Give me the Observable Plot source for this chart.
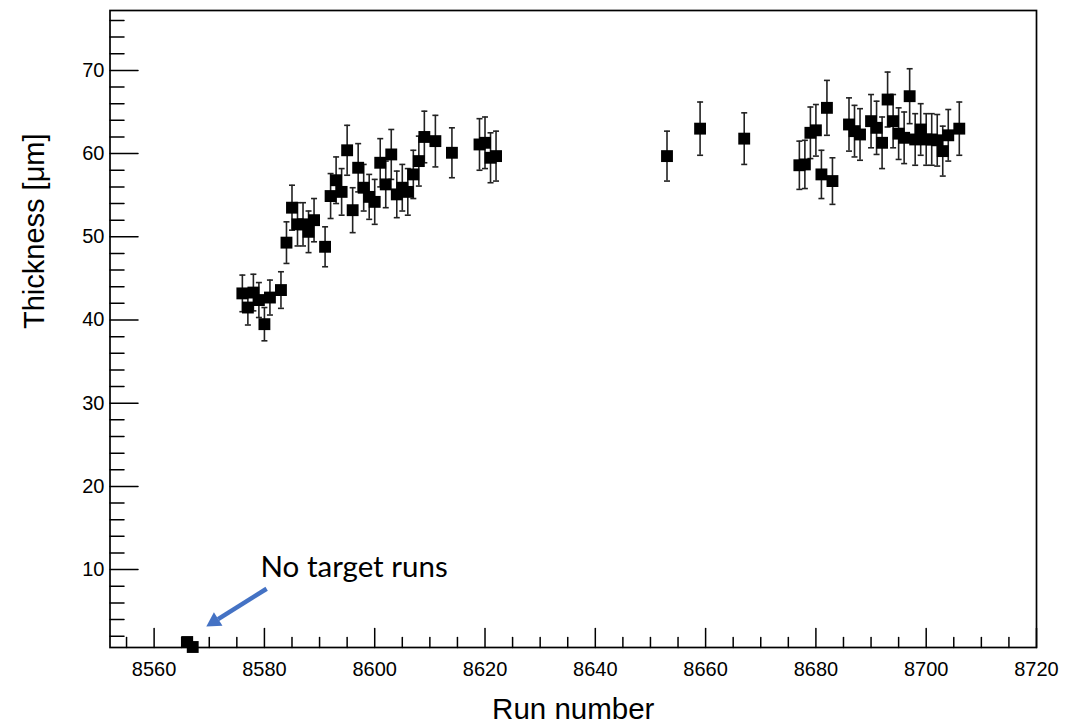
<!DOCTYPE html>
<html>
<head>
<meta charset="utf-8">
<script src="https://cdn.jsdelivr.net/npm/d3@7"></script>
<script src="https://cdn.jsdelivr.net/npm/@observablehq/plot@0.6"></script>
<style>
  html, body { margin: 0; padding: 0; background: #fff; }
  #chart { width: 1081px; height: 724px; }
</style>
</head>
<body>
<div id="chart"></div>
<script>
// ---- data ----
const runs = [8566, 8567,
  8576, 8577, 8578, 8579, 8580, 8581, 8583, 8584, 8585, 8586, 8587, 8588, 8589,
  8591, 8592, 8593, 8594, 8595, 8596, 8597, 8598, 8599, 8600, 8601, 8602, 8603,
  8604, 8605, 8606, 8607, 8608, 8609, 8611, 8614, 8619, 8620, 8621, 8622,
  8653, 8659, 8667,
  8677, 8678, 8679, 8680, 8681, 8682, 8683, 8686, 8687, 8688, 8690, 8691, 8692,
  8693, 8694, 8695, 8696, 8697, 8698, 8699, 8700, 8701, 8702, 8703, 8704, 8706];
const thickness = [1.3, 0.7,
  43.2, 41.5, 43.3, 42.4, 39.5, 42.7, 43.6, 49.3, 53.5, 51.5, 51.5, 50.6, 52.0,
  48.8, 54.9, 56.8, 55.4, 60.4, 53.2, 58.3, 55.9, 54.8, 54.2, 58.9, 56.3, 59.9,
  55.1, 55.9, 55.4, 57.5, 59.1, 62.0, 61.5, 60.1, 61.1, 61.3, 59.5, 59.7,
  59.7, 63.0, 61.8,
  58.6, 58.7, 62.5, 62.8, 57.5, 65.5, 56.7, 63.5, 62.7, 62.3, 63.9, 63.1, 61.3,
  66.5, 63.9, 62.4, 61.9, 66.9, 61.7, 62.9, 61.7, 61.7, 61.6, 60.3, 62.2, 63.0];
const errors = [0.0, 0.0,
  2.2, 2.1, 2.2, 2.1, 2.0, 2.1, 2.2, 2.5, 2.7, 2.6, 2.6, 2.5, 2.6,
  2.4, 2.7, 2.8, 2.8, 3.0, 2.7, 2.9, 2.8, 2.7, 2.7, 2.9, 2.8, 3.0,
  2.8, 2.8, 2.8, 2.9, 3.0, 3.1, 3.1, 3.0, 3.1, 3.1, 3.0, 3.0,
  3.0, 3.2, 3.1,
  2.9, 2.9, 3.1, 3.1, 2.9, 3.3, 2.8, 3.2, 3.1, 3.1, 3.2, 3.2, 3.1,
  3.3, 3.2, 3.1, 3.1, 3.3, 3.1, 3.1, 3.1, 3.1, 3.1, 3.0, 3.1, 3.2];

const xTickLabels = [8560, 8580, 8600, 8620, 8640, 8660, 8680, 8700, 8720];
const yTickLabels = [10, 20, 30, 40, 50, 60, 70];
const xMinorTicks = d3.range(8555, 8720, 5).filter(v => !xTickLabels.includes(v));
const yMinorTicks = d3.range(2, 78, 2).filter(v => !yTickLabels.includes(v));

const xTitle = ["Run number"];
const yTitle = ["Thickness [μm]"];
const noteText = ["No target runs"];
const noteX = [8579.3];
const noteY = [9.1];
// arrow shaft (start -> base of head) and head centre / direction
const arrowFromX = [8580.4], arrowFromY = [7.7];
const arrowToX = [8571.6], arrowToY = [4.05];
const headX = [8570.9], headY = [3.77], headAngle = [-122];

// ---- tables built from arrays ----
const points = runs.map((r, i) => ({run: r, v: thickness[i], e: errors[i]}));
const note = noteText.map((t, i) => ({t, x: noteX[i], y: noteY[i]}));
const shafts = arrowFromX.map((_, i) => ({x1: arrowFromX[i], y1: arrowFromY[i], x2: arrowToX[i], y2: arrowToY[i]}));
const heads = headX.map((_, i) => ({x: headX[i], y: headY[i], a: headAngle[i]}));

const tickShape = {draw(context, l) { context.moveTo(0, 0); context.lineTo(0, -l); }};
const capSymbol = {draw(context, size) { const w = Math.sqrt(size / Math.PI); context.moveTo(-w, 0); context.lineTo(w, 0); }};

const chart = Plot.plot({
  width: 1081,
  height: 724,
  marginLeft: 109.5,
  marginRight: 45,
  marginTop: 10,
  marginBottom: 77,
  style: {fontFamily: "'Liberation Sans', Arial, Helvetica, sans-serif", fontSize: "20px", color: "black", background: "white"},
  x: {domain: [8552, 8720], axis: null},
  y: {domain: [0.64, 77.2], axis: null},
  marks: [
    // tick labels
    Plot.axisX({ticks: xTickLabels, tickSize: 0, tickPadding: 14, fontSize: 20, label: null, tickFormat: d => String(d)}),
    Plot.axisY({ticks: yTickLabels, tickSize: 0, tickPadding: 5.5, fontSize: 20, label: null}),
    // inward ticks (ROOT style)
    Plot.vector(xTickLabels, {x: d => d, frameAnchor: "bottom", rotate: 0, length: 19, anchor: "start", shape: tickShape, strokeWidth: 1.5}),
    Plot.vector(xMinorTicks, {x: d => d, frameAnchor: "bottom", rotate: 0, length: 10, anchor: "start", shape: tickShape, strokeWidth: 1.5}),
    Plot.vector(yTickLabels, {y: d => d, frameAnchor: "left", rotate: 90, length: 28, anchor: "start", shape: tickShape, strokeWidth: 1.5}),
    Plot.vector(yMinorTicks, {y: d => d, frameAnchor: "left", rotate: 90, length: 14, anchor: "start", shape: tickShape, strokeWidth: 1.5}),
    Plot.frame({stroke: "black", strokeWidth: 1.7}),
    // error bars
    Plot.ruleX(points, {x: "run", y1: d => d.v - d.e, y2: d => d.v + d.e, stroke: "#222", strokeWidth: 1.6}),
    Plot.dot(points, {x: "run", y: d => d.v + d.e, symbol: capSymbol, r: 3, stroke: "#222", strokeWidth: 1.6, fill: "none"}),
    Plot.dot(points, {x: "run", y: d => d.v - d.e, symbol: capSymbol, r: 3, stroke: "#222", strokeWidth: 1.6, fill: "none"}),
    // markers
    Plot.dot(points, {x: "run", y: "v", symbol: "square", r: 6.7, fill: "black", stroke: "none"}),
    // titles
    Plot.text(xTitle, {text: d => d, frameAnchor: "bottom", dy: 62, fontSize: 29.5, lineAnchor: "middle"}),
    Plot.text(yTitle, {text: d => d, frameAnchor: "left", rotate: -90, dx: -75, fontSize: 29, lineAnchor: "middle"}),
    // annotation
    Plot.link(shafts, {x1: "x1", y1: "y1", x2: "x2", y2: "y2", stroke: "#4472C4", strokeWidth: 4.5}),
    Plot.dot(heads, {x: "x", y: "y", rotate: "a", symbol: "triangle", r: 6, fill: "#4472C4", stroke: "none"}),
    Plot.text(note, {x: "x", y: "y", text: "t", textAnchor: "start", lineAnchor: "bottom", fontFamily: "Lato, 'Open Sans', sans-serif", fontSize: 29.5})
  ]
});
document.getElementById("chart").appendChild(chart);
</script>
</body>
</html>
